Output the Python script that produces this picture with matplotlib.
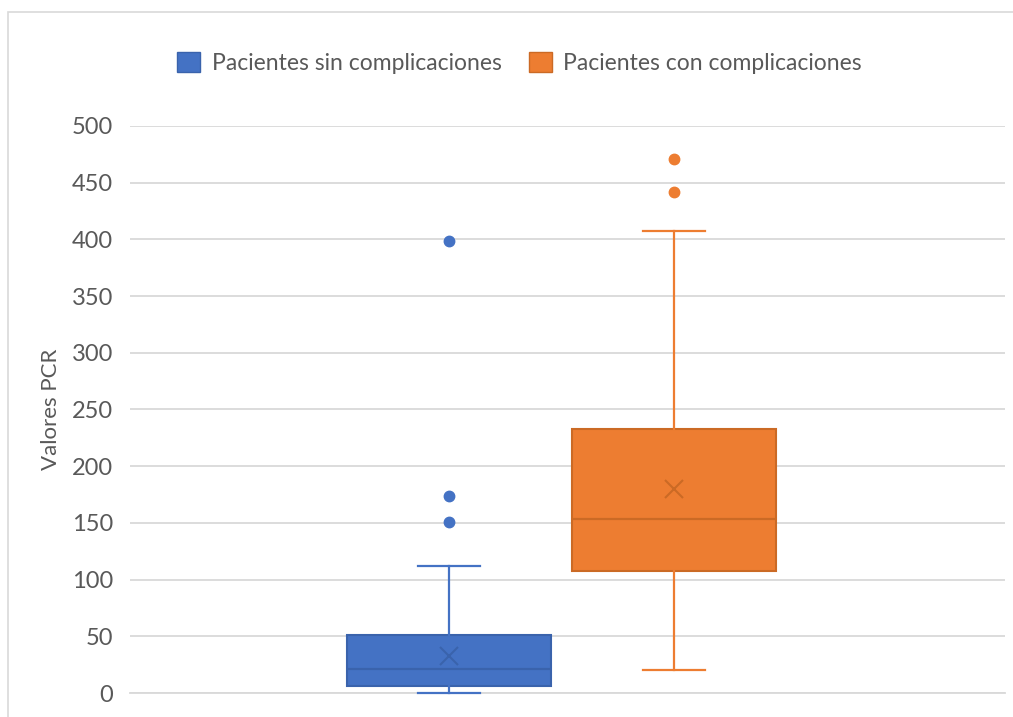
"""
Box plot of PCR values for patients with and without complications.
"""

import matplotlib.pyplot as plt
from matplotlib.patches import Rectangle, Patch

# Series summary values (PCR)
series_names = ["Pacientes sin complicaciones", "Pacientes con complicaciones"]
whisker_low = [0, 20]
q1 = [6, 108]
median = [21, 153]
q3 = [51, 233]
whisker_high = [112, 407]
mean = [33, 180]
outliers = [[151, 174, 399], [442, 471]]

face_colors = ["#4472C4", "#ED7D31"]
edge_colors = ["#3A63AC", "#CB6A25"]

y_ticks = [0, 50, 100, 150, 200, 250, 300, 350, 400, 450, 500]

plt.rcParams["font.family"] = ["Lato", "DejaVu Sans"]

fig = plt.figure(figsize=(10.13, 7.17), dpi=100)
ax = fig.add_axes([130 / 1013, 1 - 693 / 717, 875 / 1013, 567 / 717])

# chart frame
fig.patches.append(Rectangle((8 / 1013, -0.05), 1.1, 1 - 12 / 717 + 0.05,
                             transform=fig.transFigure, fill=False,
                             edgecolor="#D9D9D9", linewidth=1.2, zorder=0))

stats = []
for i in range(len(series_names)):
    stats.append({
        "whislo": whisker_low[i], "q1": q1[i], "med": median[i],
        "q3": q3[i], "whishi": whisker_high[i], "mean": mean[i],
        "fliers": outliers[i], "label": series_names[i],
    })

positions = [319, 544]
for i, st in enumerate(stats):
    fc, ec = face_colors[i], edge_colors[i]
    parts = ax.bxp([st], positions=[positions[i]], widths=204, patch_artist=True,
                   showmeans=True, capwidths=[62], manage_ticks=False, zorder=3,
                   boxprops=dict(facecolor=fc, edgecolor=ec, linewidth=1.5),
                   medianprops=dict(color=ec, linewidth=1.6),
                   whiskerprops=dict(color=fc, linewidth=1.6),
                   capprops=dict(color=fc, linewidth=1.6),
                   meanprops=dict(marker="x", markersize=13, markeredgecolor=ec,
                                  markeredgewidth=1.5),
                   flierprops=dict(marker="o", markersize=7.5, markerfacecolor=fc,
                                   markeredgecolor=fc))
    # keep the bottom cap fully visible when the whisker sits on the axis
    for line in parts["caps"] + parts["whiskers"]:
        line.set_clip_on(False)

ax.set_xlim(0, 875)
ax.set_ylim(0, 500)
ax.set_yticks(y_ticks)
ax.set_xticks([])
ax.grid(axis="y", color="#D9D9D9", linewidth=1.3)
ax.set_axisbelow(True)
for side in ["top", "right", "left"]:
    ax.spines[side].set_visible(False)
ax.spines["bottom"].set_color("#D9D9D9")
ax.spines["bottom"].set_linewidth(1.3)
ax.tick_params(axis="y", length=0, pad=12, labelsize=17, labelcolor="#595959")
ax.set_ylabel("Valores PCR", fontsize=16, color="#595959", labelpad=8)

handles = [Patch(facecolor=face_colors[i], edgecolor=edge_colors[i],
                 label=series_names[i]) for i in range(len(series_names))]
fig.legend(handles=handles, loc="center", bbox_to_anchor=(0.513, 1 - 63 / 717),
           ncol=2, frameon=False, fontsize=16.5, labelcolor="#595959",
           handlelength=1.0, handleheight=0.95, handletextpad=0.5,
           columnspacing=1.2)

fig.savefig("out.png", dpi=100)
